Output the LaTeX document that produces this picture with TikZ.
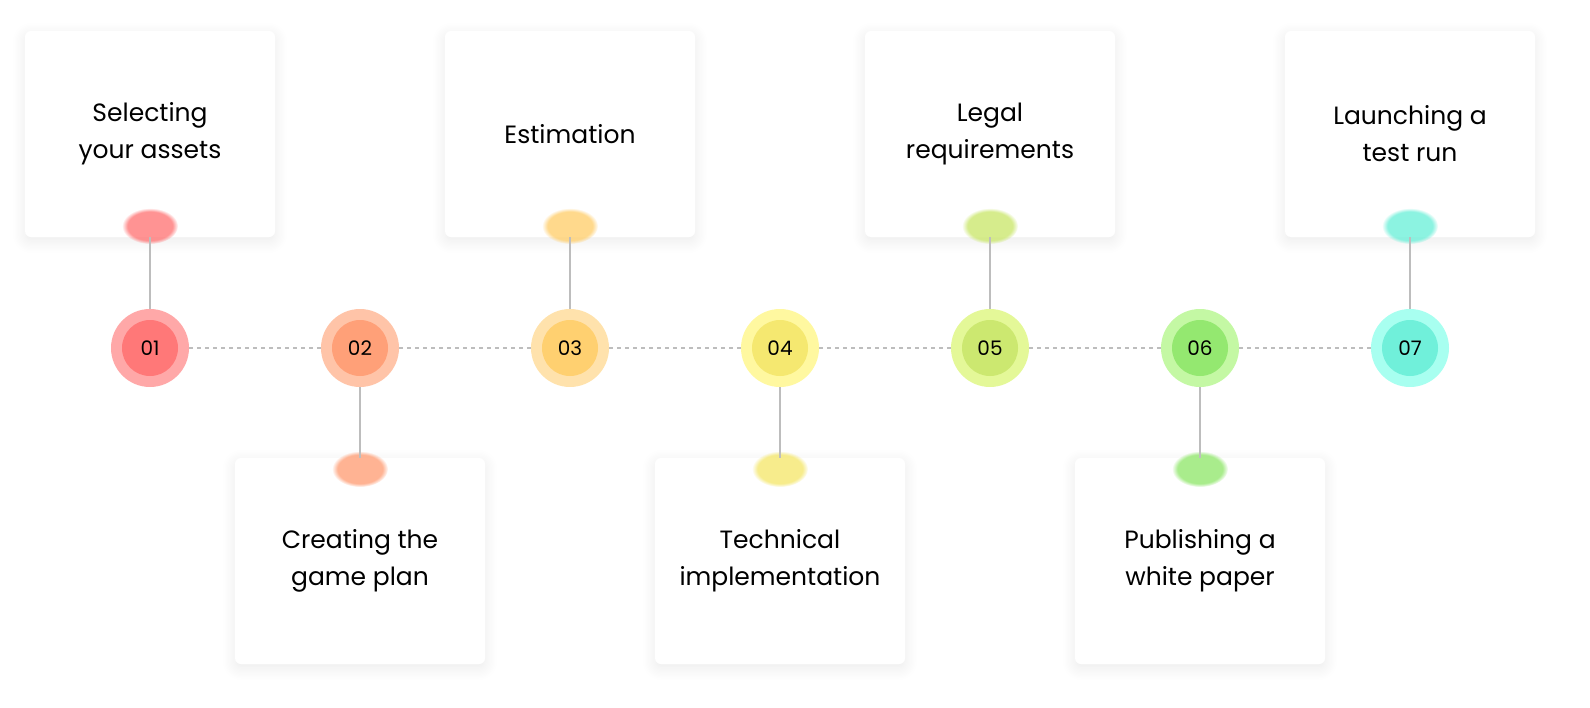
\documentclass[tikz,border=0pt]{standalone}
\usepackage{fontspec}
\setmainfont{Poppins}
\usetikzlibrary{shadows.blur,fadings}
\definecolor{o1}{HTML}{FFA8A8}\definecolor{i1}{HTML}{FF7878}
\definecolor{o2}{HTML}{FFC4A8}\definecolor{i2}{HTML}{FFA078}
\definecolor{o3}{HTML}{FFE2AC}\definecolor{i3}{HTML}{FFD070}
\definecolor{o4}{HTML}{FFF8A0}\definecolor{i4}{HTML}{F5E870}
\definecolor{o5}{HTML}{E4F898}\definecolor{i5}{HTML}{CCE870}
\definecolor{o6}{HTML}{C4F8A4}\definecolor{i6}{HTML}{94E870}
\definecolor{o7}{HTML}{A8FFF0}\definecolor{i7}{HTML}{70F0DA}
\definecolor{ln}{HTML}{BDBDBD}
\tikzset{
 box/.style={fill=white,rounded corners=6pt,minimum width=250pt,minimum height=206pt,
   blur shadow={shadow blur steps=10,shadow xshift=0pt,shadow yshift=-4pt,shadow opacity=8,shadow blur radius=12pt},
   align=center,font=\fontsize{25}{37}\selectfont,text=black},
 outer/.style={circle,minimum size=78pt,inner sep=0pt},
 inner/.style={circle,minimum size=56pt,inner sep=0pt,font=\fontsize{20}{20}\selectfont},
 conn/.style={ln,line width=1.5pt},
 dotline/.style={ln,line width=1.2pt,dash pattern=on 4pt off 4pt},
 glow/.style={path fading=circle with fuzzy edge 20 percent,opacity=0.8},
}
\begin{document}
\begin{tikzpicture}[x=1pt,y=-1pt]
\foreach \i/\x/\t/\c in {1/150/{Selecting\\your assets}/i1,3/570/{Estimation}/i3,5/990/{Legal\\requirements}/i5,7/1410/{Launching a\\test run}/i7}{
  \node[box] (b\i) at (\x,134) {\t};
  \fill[\c,glow] (\x,226) ellipse (28pt and 18pt);
}
\foreach \i/\x/\t/\c in {2/360/{Creating the\\game plan}/i2,4/780/{Technical\\implementation}/i4,6/1200/{Publishing a\\white paper}/i6}{
  \node[box] (b\i) at (\x,561) {\t};
  \fill[\c,glow] (\x,469) ellipse (28pt and 18pt);
}
\foreach \i/\x in {1/150,2/360,3/570,4/780,5/990,6/1200,7/1410}{
  \node[outer,fill=o\i] (c\i) at (\x,348) {};
  \node[inner,fill=i\i] (n\i) at (\x,348) {0\i};
}
\foreach \a/\b in {1/2,2/3,3/4,4/5,5/6,6/7} \draw[dotline] (c\a) -- (c\b);
\foreach \i in {1,3,5,7} \draw[conn] (c\i.north) -- (b\i.south);
\foreach \i in {2,4,6} \draw[conn] (c\i.south) -- (b\i.north);
\pgfresetboundingbox
\useasboundingbox (0,0) rectangle (1590,707);
\end{tikzpicture}
\end{document}
